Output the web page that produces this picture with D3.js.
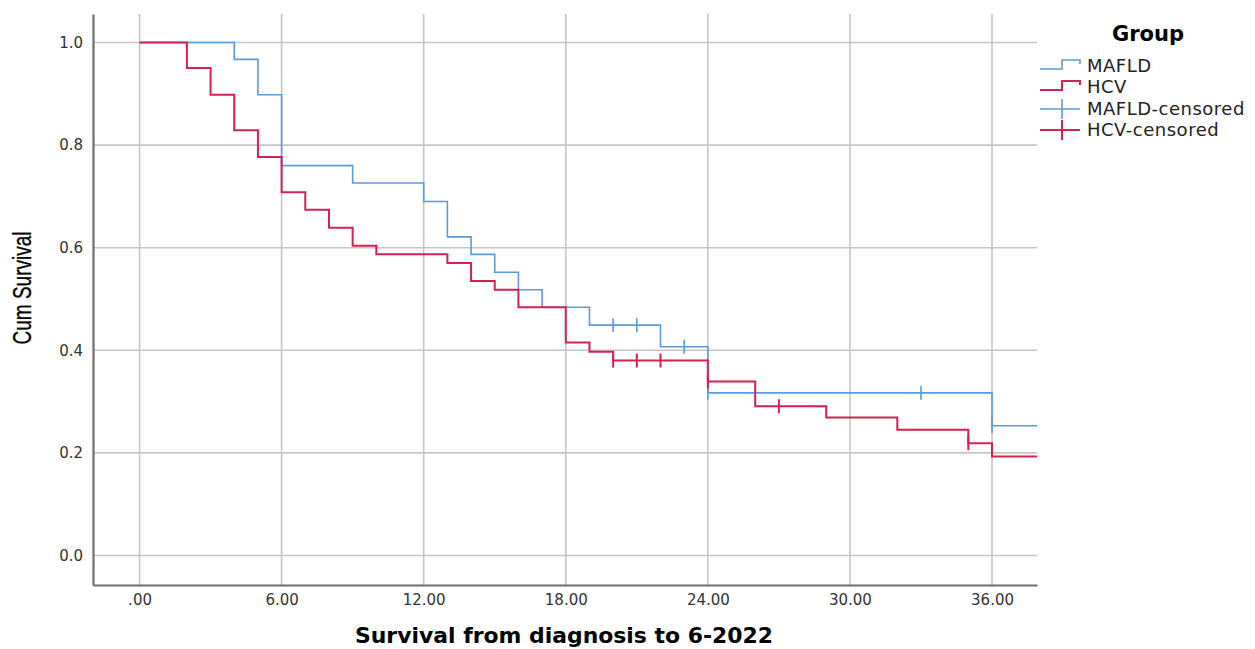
<!DOCTYPE html>
<html>
<head>
<script src="https://d3js.org/d3.v7.min.js"></script>
<style>
  body { margin: 0; background: #fff; }
  text { font-family: "DejaVu Sans", Arial, sans-serif; }
</style>
</head>
<body>
<svg id="chart" width="1255" height="649"></svg>
<script>
// Kaplan-Meier steps
var mafldTime = [0, 4, 5, 6, 9, 12, 13, 14, 15, 16, 17, 19, 22, 24, 36];
var mafldSurv = [1, 0.967, 0.898, 0.760, 0.726, 0.690, 0.621, 0.587, 0.552, 0.518, 0.484, 0.449, 0.407, 0.317, 0.253];
var mafldCensor = [20, 21, 23, 24, 33, 36];

var hcvTime = [0, 2, 3, 4, 5, 6, 7, 8, 9, 10, 13, 14, 15, 16, 18, 19, 20, 24, 26, 29, 32, 35, 36];
var hcvSurv = [1, 0.950, 0.898, 0.829, 0.777, 0.708, 0.674, 0.639, 0.604, 0.587, 0.570, 0.535, 0.518, 0.484, 0.415, 0.397, 0.380, 0.339, 0.291, 0.269, 0.245, 0.219, 0.193];
var hcvCensor = [20, 21, 22, 24, 27, 35];

var lastTime = 37.9;
var xTicks = [0, 6, 12, 18, 24, 30, 36];
var yTicks = [0, 0.2, 0.4, 0.6, 0.8, 1.0];

var blue = "#5b9be0", red = "#d3224f";

var svg = d3.select("#chart");

var x = d3.scaleLinear().domain([-1.965, 37.9]).range([93, 1037]);
var y = d3.scaleLinear().domain([-0.0575, 1.0555]).range([585, 14]);

// grid
svg.append("g").selectAll("line").data(yTicks).enter().append("line")
  .attr("x1", x.range()[0]).attr("x2", x.range()[1])
  .attr("y1", function(d){ return y(d) }).attr("y2", function(d){ return y(d) })
  .style("stroke", "#c6c6c6").style("stroke-width", 1.6);
svg.append("g").selectAll("line").data(xTicks).enter().append("line")
  .attr("y1", y.range()[0]).attr("y2", y.range()[1])
  .attr("x1", function(d){ return x(d) }).attr("x2", function(d){ return x(d) })
  .style("stroke", "#c6c6c6").style("stroke-width", 1.6);

// axes
var xAxis = svg.append("g").attr("transform", "translate(0,585)")
  .call(d3.axisBottom(x).tickValues(xTicks).tickSize(0).tickPadding(9)
    .tickFormat(function(d){ return d === 0 ? ".00" : d3.format(".2f")(d) }));
var yAxis = svg.append("g").attr("transform", "translate(93,0)")
  .call(d3.axisLeft(y).tickValues(yTicks).tickSize(0).tickPadding(10).tickFormat(d3.format(".1f")));
[xAxis, yAxis].forEach(function(a){
  a.select(".domain").style("stroke", "#6e6e6e").style("stroke-width", 2.2);
  a.selectAll("text").style("font-family", "'DejaVu Sans', sans-serif")
    .style("font-size", "15px").style("fill", "#333");
});

svg.append("text")
  .attr("transform", "translate(31,288) rotate(-90) scale(0.76,1)")
  .attr("text-anchor", "middle")
  .style("font-family", "'Liberation Sans', Arial, sans-serif")
  .style("font-size", "25px")
  .style("stroke", "#000").style("stroke-width", 0.3)
  .text("Cum Survival");

svg.append("text")
  .attr("x", 355).attr("y", 643)
  .attr("textLength", 418).attr("lengthAdjust", "spacingAndGlyphs")
  .style("font-size", "22px").style("font-weight", "bold")
  .text("Survival from diagnosis to 6-2022");

// curves
var line = d3.line()
  .x(function(d){ return x(d[0]) }).y(function(d){ return y(d[1]) })
  .curve(d3.curveStepAfter);

function survAt(times, surv, t) {
  var i = d3.bisectRight(times, t) - 1;
  return surv[i];
}

var series = [
  { time: mafldTime, surv: mafldSurv, cens: mafldCensor, color: blue, w: 1.6 },
  { time: hcvTime, surv: hcvSurv, cens: hcvCensor, color: red, w: 2 }
];

series.forEach(function(s){
  var pts = s.time.map(function(t, i){ return [t, s.surv[i]] });
  pts.push([lastTime, s.surv[s.surv.length - 1]]);
  svg.append("path").datum(pts)
    .attr("d", line)
    .style("fill", "none").style("stroke", s.color).style("stroke-width", s.w);
  svg.append("g").selectAll("line").data(s.cens).enter().append("line")
    .attr("x1", function(d){ return x(d) }).attr("x2", function(d){ return x(d) })
    .attr("y1", function(d){ return y(survAt(s.time, s.surv, d)) - 7 })
    .attr("y2", function(d){ return y(survAt(s.time, s.surv, d)) + 7 })
    .style("stroke", s.color).style("stroke-width", s.w);
});

// legend
var lg = svg.append("g");
lg.append("text").attr("x", 1148).attr("y", 41).attr("text-anchor", "middle")
  .style("font-size", "21px").style("font-weight", "bold").text("Group");

var legendItems = [
  { label: "MAFLD", color: blue, kind: "step", cy: 66, w: 1.6 },
  { label: "HCV", color: red, kind: "step", cy: 87, w: 2 },
  { label: "MAFLD-censored", color: blue, kind: "cens", cy: 109, w: 1.6 },
  { label: "HCV-censored", color: red, kind: "cens", cy: 130, w: 2 }
];
legendItems.forEach(function(d){
  if (d.kind === "step") {
    var p = d3.path();
    p.moveTo(1040, d.cy + 3); p.lineTo(1062, d.cy + 3); p.lineTo(1062, d.cy - 6);
    p.lineTo(1080, d.cy - 6); p.lineTo(1080, d.cy - 2);
    lg.append("path").attr("d", p.toString())
      .style("fill", "none").style("stroke", d.color).style("stroke-width", d.w);
  } else {
    lg.append("line").attr("x1", 1040).attr("x2", 1080).attr("y1", d.cy).attr("y2", d.cy)
      .style("stroke", d.color).style("stroke-width", d.w);
    lg.append("line").attr("x1", 1062).attr("x2", 1062).attr("y1", d.cy - 10).attr("y2", d.cy + 10)
      .style("stroke", d.color).style("stroke-width", d.w);
  }
  lg.append("text").attr("x", 1087).attr("y", d.cy + 6)
    .style("font-size", "18px").style("letter-spacing", "0.5px").style("fill", "#222").text(d.label);
});
</script>
</body>
</html>
